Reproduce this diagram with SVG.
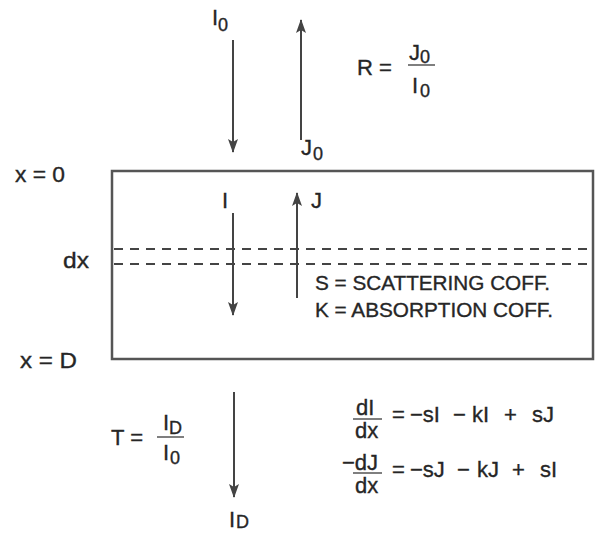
<svg xmlns="http://www.w3.org/2000/svg" width="595" height="533" viewBox="0 0 595 533">
<style>
text{font-family:"Liberation Sans",Arial,Helvetica,sans-serif;fill:#262626;stroke:#262626;stroke-width:0.35;font-size:22px}
.sub{font-size:18px}
.note{font-size:21px}
.eq{font-size:22px}
.arrow{stroke:#444;stroke-width:2;fill:none;marker-end:url(#ah)}
.bar{stroke:#555;stroke-width:1.5}
.dash{stroke:#444;stroke-width:2;stroke-dasharray:9 7;fill:none}
</style>
<defs>
<marker id="ah" viewBox="0 0 14 10" refX="13" refY="5" markerWidth="14" markerHeight="10" markerUnits="userSpaceOnUse" orient="auto">
<path d="M0,0 L14,5 L0,10 L3,5 z" fill="#444"/>
</marker>
</defs>
<rect width="595" height="533" fill="#fff"/>

<g id="slab">
<rect x="112" y="171" width="481" height="188" fill="none" stroke="#555" stroke-width="2.5"/>
<line class="dash" x1="114" y1="249" x2="587" y2="249"/>
<line class="dash" x1="114" y1="264" x2="587" y2="264"/>
</g>

<g id="connectors">
<line class="arrow" x1="233" y1="40" x2="233" y2="152"/>
<line class="arrow" x1="301" y1="140" x2="301" y2="20"/>
<line class="arrow" x1="233" y1="213" x2="233" y2="315"/>
<line class="arrow" x1="297" y1="298" x2="297" y2="193"/>
<line class="arrow" x1="234" y1="392" x2="234" y2="497"/>
</g>

<g id="label-I0-top"><text x="212" y="25">I</text><text class="sub" x="218" y="31">0</text></g>
<g id="label-J0-top"><text x="301" y="155">J</text><text class="sub" x="313" y="160">0</text></g>
<g id="reflectance">
<text x="357" y="75" textLength="35" lengthAdjust="spacingAndGlyphs">R =</text>
<text x="409" y="60">J</text><text class="sub" x="420" y="63">0</text>
<line class="bar" x1="408" y1="65" x2="435" y2="65"/>
<text x="412" y="93">I</text><text class="sub" x="420" y="97">0</text>
</g>
<g id="label-x0"><text x="15" y="182" textLength="50" lengthAdjust="spacingAndGlyphs">x = 0</text></g>
<g id="label-dx"><text x="63" y="268" textLength="26" lengthAdjust="spacingAndGlyphs">dx</text></g>
<g id="label-xD"><text x="20" y="368" textLength="57" lengthAdjust="spacingAndGlyphs">x = D</text></g>
<g id="label-I"><text x="222" y="208">I</text></g>
<g id="label-J"><text x="311" y="208">J</text></g>
<g id="coefficients">
<text class="note" x="315" y="290" textLength="235" lengthAdjust="spacingAndGlyphs">S = SCATTERING COFF.</text>
<text class="note" x="315" y="317" textLength="238" lengthAdjust="spacingAndGlyphs">K = ABSORPTION COFF.</text>
</g>
<g id="transmittance">
<text x="111" y="445" textLength="32" lengthAdjust="spacingAndGlyphs">T =</text>
<text x="163" y="430">I</text><text class="sub" x="169" y="434">D</text>
<line class="bar" x1="157" y1="437" x2="184" y2="437"/>
<text x="163" y="460">I</text><text class="sub" x="170" y="464">0</text>
</g>
<g id="label-ID-bottom"><text x="229" y="527">I</text><text class="sub" x="236" y="528">D</text></g>
<g id="equation-1">
<text class="eq" x="356" y="415">dI</text>
<line class="bar" x1="353" y1="419" x2="382" y2="419"/>
<text class="eq" x="355" y="438">dx</text>
<text class="eq" x="392" y="422">=</text>
<text class="eq" x="410" y="422">−sI</text>
<text class="eq" x="453" y="422">−</text>
<text class="eq" x="472" y="422">kI</text>
<text class="eq" x="504" y="422">+</text>
<text class="eq" x="532" y="422">sJ</text>
</g>
<g id="equation-2">
<text class="eq" x="342" y="470">−dJ</text>
<line class="bar" x1="353" y1="473" x2="382" y2="473"/>
<text class="eq" x="355" y="493">dx</text>
<text class="eq" x="392" y="477">=</text>
<text class="eq" x="410" y="477">−sJ</text>
<text class="eq" x="457" y="477">−</text>
<text class="eq" x="477" y="477">kJ</text>
<text class="eq" x="512" y="477">+</text>
<text class="eq" x="540" y="477">sI</text>
</g>
</svg>
